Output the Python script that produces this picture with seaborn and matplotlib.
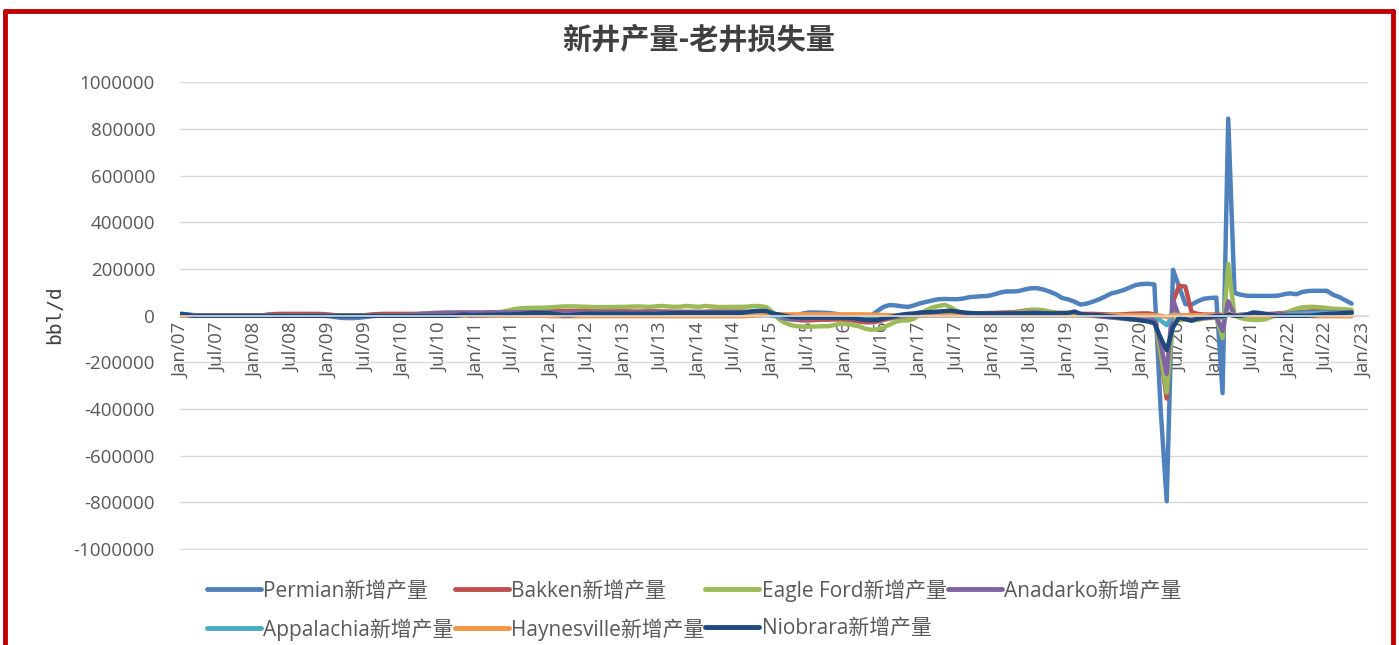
import matplotlib
matplotlib.use("Agg")
import matplotlib.pyplot as plt
import matplotlib.dates as mdates
from matplotlib.lines import Line2D
from matplotlib.ticker import FuncFormatter
import pandas as pd
import seaborn as sns

# monthly, Jan 2007 - Nov 2022 (191 points), bbl/d
months = pd.date_range("2007-01-01", periods=191, freq="MS")

permian = [
    8000, 6000, 3000, 2000, 2000, 2000, 2000, 2000, 2000, 2000, 2000, 2000,
    2000, 2000, 3000, 3000, 3000, 3000, 3000, 3000, 2000, 2000, 1000, 0,
    -2000, -6000, -9000, -10000, -10000, -8000, -5000, -2000, 0, 1000, 2000, 2000,
    3000, 3000, 4000, 5000, 6000, 7000, 8000, 8000, 9000, 9000, 10000, 10000,
    11000, 11000, 12000, 12000, 13000, 13000, 14000, 14000, 15000, 15000, 16000, 16000,
    17000, 17000, 18000, 18000, 19000, 19000, 19000, 18000, 18000, 17000, 17000, 17000,
    17000, 16000, 16000, 16000, 17000, 17000, 16000, 16000, 15000, 15000, 15000, 15000,
    15000, 15000, 16000, 16000, 16000, 16000, 16000, 16000, 15000, 15000, 14000, 12000,
    10000, 3000, -3000, -5000, 2000, 10000, 14000, 14000, 13000, 12000, 9000, 5000,
    2000, -2000, -5000, -5000, 0, 20000, 38000, 46000, 44000, 40000, 38000, 45000,
    54000, 60000, 66000, 71000, 72000, 71000, 71000, 74000, 80000, 82000, 84000, 85000,
    92000, 100000, 104000, 104000, 106000, 113000, 118000, 118000, 112000, 103000, 92000, 76000,
    70000, 60000, 48000, 52000, 60000, 70000, 82000, 96000, 102000, 110000, 121000, 132000,
    136000, 137000, 134000, -400000, -795000, 197000, 125000, 50000, 48000, 62000, 73000, 76000,
    78000, -332000, 845000, 98000, 90000, 86000, 85000, 85000, 85000, 85000, 86000, 92000,
    96000, 92000, 102000, 106000, 107000, 107000, 107000, 90000, 80000, 66000, 52000,
]

bakken = [
    3000, 1000, 0, 0, 0, 0, 0, 0, 0, 0, 0, 0,
    0, 0, 5000, 7000, 8000, 8000, 8000, 8000, 8000, 8000, 8000, 7000,
    5000, 2000, 0, 0, 0, 0, 3000, 6000, 7000, 8000, 8000, 8000,
    8000, 8000, 8000, 9000, 9000, 10000, 10000, 11000, 11000, 12000, 12000, 12000,
    13000, 13000, 14000, 14000, 15000, 15000, 16000, 16000, 17000, 17000, 18000, 18000,
    19000, 19000, 20000, 20000, 21000, 21000, 21000, 20000, 20000, 19000, 19000, 19000,
    19000, 18000, 18000, 18000, 19000, 19000, 18000, 18000, 17000, 17000, 17000, 17000,
    17000, 17000, 18000, 18000, 18000, 18000, 18000, 18000, 17000, 17000, 15000, 12000,
    5000, -5000, -12000, -15000, -18000, -20000, -20000, -18000, -17000, -17000, -16000, -16000,
    -18000, -20000, -25000, -28000, -28000, -25000, -18000, -12000, -8000, -5000, -2000, 0,
    2000, 3000, 5000, 6000, 8000, 8000, 8000, 8000, 8000, 9000, 10000, 12000,
    12000, 13000, 14000, 15000, 18000, 22000, 25000, 24000, 20000, 16000, 13000, 12000,
    12000, 10000, 8000, 8000, 8000, 7000, 6000, 5000, 5000, 6000, 8000, 9000,
    10000, 10000, 5000, -170000, -355000, 60000, 128000, 125000, 15000, 8000, 5000, 5000,
    5000, 3000, 5000, 3000, 2000, 3000, 5000, 6000, 7000, 8000, 10000, 12000,
    14000, 15000, 17000, 18000, 20000, 20000, 20000, 18000, 17000, 16000, 15000,
]

eagle_ford = [
    0, 0, 0, 0, 0, 0, 0, 0, 0, 0, 0, 0,
    0, 0, 0, 0, 0, 0, 0, 0, 0, 0, 0, 0,
    0, 0, 0, 0, 0, 0, 0, 0, 0, 0, 0, 0,
    0, 0, 0, 0, 0, 1000, 2000, 2000, 3000, 3000, 4000, 5000,
    6000, 7000, 9000, 12000, 17000, 22000, 28000, 32000, 33000, 34000, 34000, 35000,
    36000, 38000, 40000, 40000, 40000, 39000, 38000, 37000, 37000, 37000, 37000, 38000,
    38000, 39000, 40000, 39000, 38000, 40000, 42000, 40000, 38000, 39000, 42000, 40000,
    38000, 42000, 40000, 38000, 37000, 38000, 38000, 38000, 39000, 42000, 41000, 37000,
    15000, -15000, -30000, -40000, -45000, -47000, -47000, -46000, -45000, -45000, -40000, -34000,
    -35000, -40000, -45000, -55000, -60000, -58000, -50000, -38000, -25000, -20000, -20000, -12000,
    10000, 25000, 36000, 42000, 47000, 35000, 18000, 10000, 10000, 10000, 10000, 10000,
    10000, 10000, 10000, 12000, 15000, 20000, 25000, 26000, 24000, 18000, 12000, 10000,
    10000, 8000, 5000, 3000, 0, -2000, -3000, -3000, -3000, -3000, -3000, -3000,
    -3000, -3000, 0, -160000, -330000, -20000, -20000, -15000, -20000, -18000, -12000, -10000,
    -8000, -95000, 222000, 0, -10000, -15000, -18000, -18000, -15000, -5000, 5000, 10000,
    20000, 30000, 36000, 38000, 38000, 36000, 33000, 30000, 29000, 27000, 25000,
]

anadarko = [
    0, 0, 0, 0, 0, 0, 0, 0, 0, 0, 0, 0,
    0, 0, 0, 0, 0, 0, 0, 0, 0, 0, 0, 0,
    0, 0, 0, 0, 0, 0, 0, 0, 0, 0, 0, 0,
    2000, 4000, 6000, 8000, 10000, 12000, 13000, 14000, 14000, 14000, 14000, 14000,
    13000, 13000, 14000, 14000, 14000, 15000, 15000, 15000, 14000, 14000, 14000, 14000,
    14000, 13000, 13000, 13000, 14000, 14000, 14000, 14000, 13000, 13000, 13000, 13000,
    13000, 13000, 13000, 13000, 14000, 14000, 14000, 14000, 14000, 14000, 14000, 14000,
    14000, 14000, 14000, 15000, 15000, 15000, 15000, 15000, 15000, 14000, 13000, 10000,
    5000, -5000, -12000, -15000, -15000, -12000, -10000, -8000, -8000, -8000, -8000, -8000,
    -10000, -12000, -15000, -18000, -20000, -18000, -12000, -8000, -5000, -2000, 0, 2000,
    4000, 5000, 6000, 7000, 8000, 8000, 8000, 8000, 8000, 8000, 8000, 8000,
    8000, 8000, 8000, 9000, 10000, 12000, 14000, 14000, 12000, 10000, 8000, 8000,
    8000, 6000, 4000, 2000, 0, -2000, -5000, -8000, -10000, -13000, -15000, -17000,
    -18000, -20000, -10000, -120000, -250000, 70000, -5000, -12000, -15000, -12000, -10000, -8000,
    -5000, -65000, 62000, 0, 5000, 5000, 5000, 5000, 5000, 5000, 8000, 8000,
    10000, 12000, 15000, 15000, 15000, 15000, 15000, 14000, 14000, 13000, 13000,
]

appalachia = [
    0, 0, 0, 0, 0, 0, 0, 0, 0, 0, 0, 0,
    0, 0, 0, 0, 0, 0, 0, 0, 0, 0, 0, 0,
    0, 0, 0, 0, 0, 0, 0, 0, 0, 0, 0, 0,
    0, 0, 0, 0, 0, 0, 0, 0, 0, 0, 0, 0,
    2000, 2000, 2000, 2000, 2000, 2000, 2000, 2000, 2000, 2000, 2000, 2000,
    2000, 2000, 2000, 2000, 2000, 2000, 2000, 2000, 2000, 2000, 2000, 2000,
    2000, 2000, 2000, 2000, 2000, 2000, 2000, 2000, 2000, 2000, 2000, 2000,
    2000, 2000, 2000, 2000, 2000, 2000, 2000, 2000, 2000, 2000, 2000, 2000,
    0, -2000, -3000, -3000, -3000, -3000, -3000, -3000, -3000, -3000, -3000, -3000,
    -3000, -3000, -3000, -3000, -3000, -3000, -2000, 0, 1000, 2000, 2000, 2000,
    2000, 2000, 2000, 2000, 2000, 2000, 2000, 2000, 2000, 2000, 2000, 2000,
    2000, 2000, 2000, 2000, 2000, 2000, 2000, 2000, 2000, 2000, 2000, 2000,
    2000, 2000, 2000, 2000, 2000, 2000, 2000, 2000, 2000, 2000, 2000, 2000,
    2000, 2000, 0, -20000, -40000, 5000, 3000, 2000, 2000, 2000, 2000, 2000,
    2000, -10000, 10000, 2000, 2000, 2000, 2000, 2000, 2000, 2000, 2000, 2000,
    8000, 8000, 10000, 10000, 12000, 12000, 12000, 10000, 10000, 8000, 8000,
]

haynesville = [
    0, 0, 0, 0, 0, 0, 0, 0, 0, 0, 0, 0,
    0, 0, 0, 0, 0, 0, 0, 0, 0, 0, 0, 0,
    0, 0, 0, 0, 0, 0, 0, 0, 0, 0, 0, 0,
    0, 0, 0, 0, 0, 0, 0, 0, 0, 0, 0, 0,
    0, 0, 0, 0, 0, 0, 0, 0, 0, 0, 0, 0,
    -2000, -2000, -2000, -2000, -2000, -2000, -2000, -2000, -2000, -2000, -2000, -2000,
    -2000, -2000, -2000, -2000, -2000, -2000, -2000, -2000, -2000, -2000, -2000, -2000,
    -2000, -2000, -2000, -2000, -2000, -2000, -2000, -2000, -1000, 0, 2000, 4000,
    6000, 6000, 6000, 6000, 6000, 6000, 6000, 6000, 6000, 6000, 6000, 6000,
    6000, 6000, 6000, 6000, 5000, 4000, 3000, 2000, 2000, 2000, 2000, 2000,
    2000, 2000, 2000, 2000, 2000, 2000, 2000, 2000, 2000, 2000, 2000, 2000,
    2000, 2000, 2000, 2000, 2000, 2000, 2000, 2000, 2000, 2000, 2000, 2000,
    2000, 2000, 2000, 2000, 2000, 2000, 2000, 2000, 2000, 2000, 2000, 2000,
    2000, 2000, 2000, 0, -5000, 2000, 2000, 2000, 2000, 2000, 2000, 2000,
    2000, -5000, 8000, 2000, 2000, 2000, 0, 0, 0, 0, 0, 0,
    0, 0, 0, 0, -2000, -2000, -2000, -2000, -2000, -2000, -2000,
]

niobrara = [
    8000, 3000, 0, 0, 0, 0, 0, 0, 0, 0, 0, 0,
    0, 0, 0, 0, 0, 0, 0, 0, 0, 0, 0, 0,
    0, 0, 0, 0, 0, 0, 0, 0, 0, 0, 0, 0,
    0, 0, 0, 0, 0, 0, 0, 0, 0, 2000, 5000, 2000,
    3000, 3000, 4000, 4000, 5000, 5000, 6000, 7000, 10000, 12000, 12000, 12000,
    10000, 5000, 2000, 2000, 4000, 7000, 8000, 8000, 8000, 8000, 8000, 8000,
    8000, 8000, 8000, 8000, 8000, 8000, 9000, 10000, 12000, 12000, 12000, 12000,
    12000, 12000, 12000, 12000, 12000, 12000, 12000, 13000, 16000, 20000, 21000, 20000,
    10000, 5000, 0, -5000, -7000, -8000, -8000, -8000, -8000, -8000, -8000, -8000,
    -8000, -10000, -14000, -18000, -18000, -18000, -12000, -6000, 0, 5000, 8000, 10000,
    14000, 15000, 16000, 18000, 20000, 21000, 18000, 14000, 12000, 10000, 10000, 10000,
    10000, 10000, 10000, 10000, 10000, 10000, 10000, 10000, 10000, 10000, 10000, 11000,
    12000, 18000, 8000, 5000, 3000, 2000, 0, -3000, -6000, -10000, -14000, -17000,
    -21000, -25000, -32000, -95000, -148000, -50000, -7000, -15000, -21000, -12000, -7000, -5000,
    0, -3000, 5000, 0, 0, 5000, 14000, 12000, 8000, 3000, 0, 0,
    0, 0, 0, 0, 2000, 5000, 7000, 8000, 10000, 12000, 14000,
]

names = ["Permian新增产量", "Bakken新增产量", "Eagle Ford新增产量", "Anadarko新增产量",
         "Appalachia新增产量", "Haynesville新增产量", "Niobrara新增产量"]
colors = ["#4F81BD", "#C0504D", "#9BBB59", "#8064A2", "#4BACC6", "#F79646", "#1F497D"]

df = pd.DataFrame({"date": months})
for n, s in zip(names, [permian, bakken, eagle_ford, anadarko, appalachia, haynesville, niobrara]):
    df[n] = s
long = df.melt(id_vars="date", var_name="series", value_name="value")

sns.set_theme(style="white")
plt.rcParams["font.family"] = ["Open Sans", "Noto Sans CJK SC", "DejaVu Sans"]

W, H = 1399, 645
fig = plt.figure(figsize=(W / 100, H / 100), dpi=100)
ax = fig.add_axes([180 / W, (H - 549.5) / H, (1368 - 180) / W, (549.5 - 82) / H])

sns.lineplot(data=long, x="date", y="value", hue="series", hue_order=names,
             palette=dict(zip(names, colors)), linewidth=3.2, ax=ax)

# x axis: date ticks every 6 months
d0 = mdates.date2num(pd.Timestamp("2007-01-01"))
d1 = mdates.date2num(pd.Timestamp("2023-01-01"))
ppd = (1364 - 181.5) / (d1 - d0)
ax.set_xlim(d0 - 1.5 / ppd, d1 + 4 / ppd)
ticks = pd.date_range("2007-01-01", "2023-01-01", freq="6MS")
ax.set_xticks(ticks)
ax.set_xticklabels([t.strftime("%b/%y") for t in ticks])
ax.tick_params(axis="x", length=0, pad=5, labelrotation=90, labelsize=13.5, labelcolor="#595959")

ax.set_ylim(-1002000, 1002000)
ax.set_yticks(range(-1000000, 1000001, 200000))
ax.yaxis.set_major_formatter(FuncFormatter(lambda v, p: f"{int(v)}"))
ax.tick_params(axis="y", labelsize=13.5, labelcolor="#595959", length=0, pad=18)
ax.grid(axis="y", color="#D9D9D9", linewidth=1)
ax.set_axisbelow(True)
for sp in ["left", "right", "top"]:
    ax.spines[sp].set_visible(False)
ax.spines["bottom"].set_position(("data", 0))
ax.spines["bottom"].set_color("#D9D9D9")
ax.set_xlabel("")
ax.set_ylabel("")

fig.text(55 / W, 1 - 315 / H, "bbl/d", rotation=90, ha="center", va="center",
         fontsize=14, color="#404040", family="DejaVu Sans Mono")
fig.text(699 / W, 1 - 40 / H, "新井产量-老井损失量", ha="center", va="center",
         fontsize=21, fontweight="bold", color="#404040",
         family=["Noto Sans CJK SC", "DejaVu Sans"])

# legend: row-wise order in 4 columns (matplotlib fills column by column)
handles, labels = ax.get_legend_handles_labels()
ax.get_legend().remove()
order = [0, 4, 1, 5, 2, 6, 3]
leg = ax.legend([handles[i] for i in order], [labels[i] for i in order],
                loc="upper left", bbox_to_anchor=(207 / W, 1 - 579 / H),
                bbox_transform=fig.transFigure, ncol=4, frameon=False,
                fontsize=15, handlelength=2.6, handletextpad=0.1, columnspacing=0.05,
                labelspacing=0.8, borderaxespad=0, borderpad=0)
for t in leg.get_texts():
    t.set_color("#595959")
for h in leg.legend_handles:
    h.set_linewidth(3.5)

# red frame around the chart
red = "#C00000"
for xs, ys in [([5, 5], [0, 11]), ([1393, 1393], [0, 11]), ([5, 1393], [11, 11])]:
    xs_f = [x / W for x in xs]
    ys_f = [1 - y / H if y else 0 for y in ys]
    fig.add_artist(Line2D(xs_f, ys_f, color=red, linewidth=3.5, transform=fig.transFigure))

fig.savefig("out.png", dpi=100)
